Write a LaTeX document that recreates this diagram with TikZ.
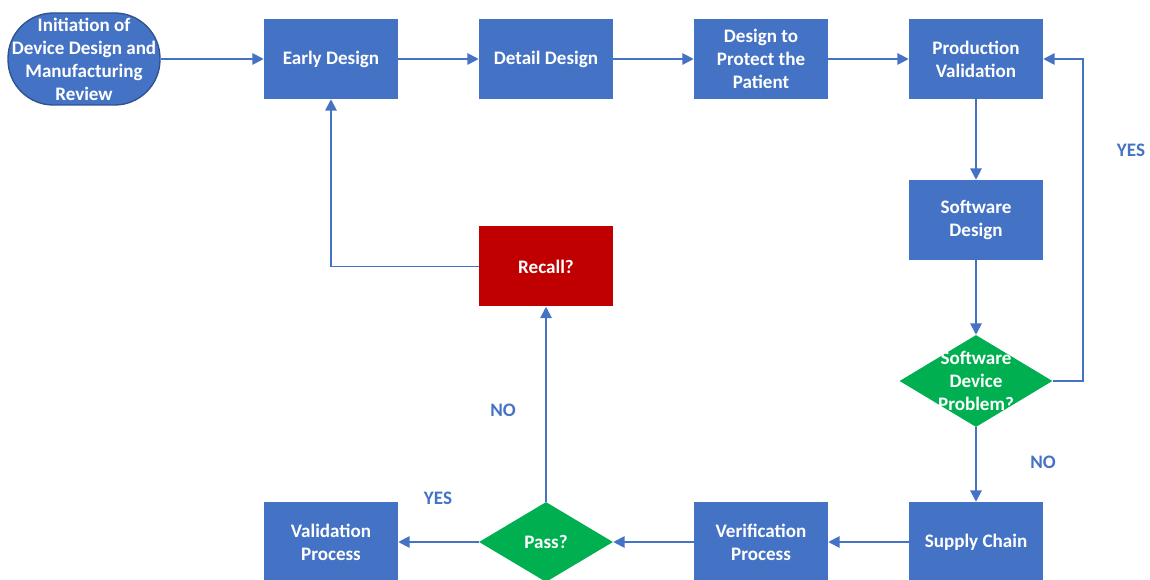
\documentclass[tikz,border=0pt]{standalone}
\usepackage{fontspec}
\setmainfont{Carlito}
\usepackage{tikz}
\usetikzlibrary{shapes.geometric}
\usetikzlibrary{arrows.meta}

\definecolor{boxblue}{RGB}{68,114,196}
\definecolor{rimblue}{RGB}{47,82,143}
\definecolor{okgreen}{RGB}{0,176,80}
\definecolor{recallred}{RGB}{192,0,0}

\begin{document}
\begin{tikzpicture}[x=0.75pt,y=0.75pt,yscale=-1,xscale=1,
  box/.style={rectangle,fill=boxblue,text=white,font=\bfseries\fontsize{14.3}{17.25}\selectfont,align=center,minimum width=100.5pt,minimum height=60pt,inner sep=0.75pt},
  decide/.style={diamond,fill=okgreen,inner sep=0pt},
  decidetext/.style={text=white,font=\bfseries\fontsize{14.3}{17.25}\selectfont,align=center},
  flow/.style={color=boxblue,line width=1.4pt,-{Triangle[length=8.5pt,width=8.5pt]}},
  answer/.style={text=boxblue,font=\bfseries\fontsize{14.3}{16}\selectfont}]
\useasboundingbox (0,0) rectangle (1150,580);
\clip (0,0) rectangle (1150,580);

% top row
\node [box,draw=rimblue,line width=1pt,rounded corners=34pt,minimum width=114pt,minimum height=69pt] (init) at (84,59) {Initiation of\\Device Design and\\Manufacturing\\Review};
\node [box] (early) at (331,59) {Early Design};
\node [box] (detail) at (546,59) {Detail Design};
\node [box] (protect) at (761,59) {Design to\\Protect the\\Patient};
\node [box] (prodval) at (976,59) {Production\\Validation};

% right column
\node [box] (swdesign) at (976,220) {Software\\Design};
\node [decide,minimum width=114.75pt,minimum height=69pt,label={[decidetext]center:Software\\Device\\Problem?}] (swprob) at (976,381) {};

% bottom row
\node [box] (supply) at (976,542) {Supply Chain};
\node [box] (verif) at (761,542) {Verification\\Process};
\node [decide,minimum width=100.5pt,minimum height=60pt,label={[decidetext]center:Pass?}] (pass) at (546,542) {};
\node [box] (valid) at (331,542) {Validation\\Process};

\node [box,fill=recallred] (recall) at (546,266.5) {Recall?};

\draw [flow] (init) -- (early);
\draw [flow] (early) -- (detail);
\draw [flow] (detail) -- (protect);
\draw [flow] (protect) -- (prodval);
\draw [flow] (prodval) -- (swdesign);
\draw [flow] (swdesign) -- (swprob);
\draw [flow] (swprob.east) -- ++(30,0) |- (prodval.east);
\draw [flow] (swprob) -- (supply);
\draw [flow] (supply) -- (verif);
\draw [flow] (verif) -- (pass);
\draw [flow] (pass) -- (valid);
\draw [flow] (pass) -- (recall);
\draw [flow] (recall.west) -| (early.south);

\node [answer] (yes1) at (1131,150) {YES};
\node [answer] (no1) at (1043,462) {NO};
\node [answer] (no2) at (503,410) {NO};
\node [answer] (yes2) at (438,498) {YES};
\end{tikzpicture}
\end{document}
